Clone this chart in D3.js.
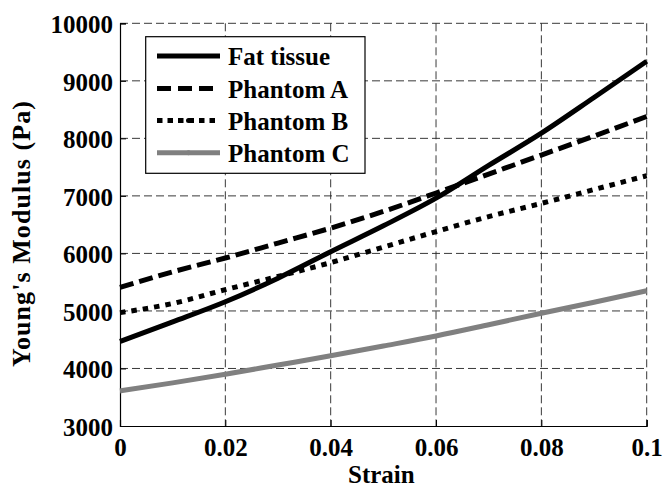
<!DOCTYPE html>
<html>
<head>
<meta charset="utf-8">
<script src="https://cdn.jsdelivr.net/npm/d3@7"></script>
<style>
  html, body { margin: 0; padding: 0; background: #fff; }
  svg { display: block; }
</style>
</head>
<body>
<svg id="chart" width="663" height="487"></svg>
<script>
// ---- data ----
const strain = [0, 0.01, 0.02, 0.03, 0.04, 0.05, 0.06, 0.07, 0.08, 0.09, 0.1];
const fatTissue = [4470, 4810, 5160, 5570, 6030, 6480, 6960, 7530, 8090, 8710, 9340];
const phantomA  = [5410, 5680, 5920, 6180, 6440, 6730, 7050, 7380, 7710, 8040, 8380];
const phantomB  = [4970, 5130, 5370, 5600, 5840, 6110, 6380, 6640, 6870, 7110, 7350];
const phantomC  = [3610, 3750, 3900, 4060, 4220, 4390, 4565, 4760, 4960, 5150, 5350];
const seriesNames = ["Fat tissue", "Phantom A", "Phantom B", "Phantom C"];
const xTicks = [0, 0.02, 0.04, 0.06, 0.08, 0.1];
const xTickLabels = ["0", "0.02", "0.04", "0.06", "0.08", "0.1"];
const yTicks = [3000, 4000, 5000, 6000, 7000, 8000, 9000, 10000];
const xLabel = "Strain";
const yLabel = "Young's Modulus (Pa)";

const FONT = "Liberation Serif";

// ---- layout ----
const svg = d3.select("#chart");
const L = 120, R = 646.7, T = 23.3, B = 426;
const x = d3.scaleLinear().domain([0, 0.1]).range([L, R]);
const y = d3.scaleLinear().domain([3000, 10000]).range([B, T]);

const styles = [
  { color: "#000", width: 5, dash: null, dot: false },
  { color: "#000", width: 5, dash: "14,6", dot: true },
  { color: "#000", width: 5, dash: "5.5,6", dot: true },
  { color: "#808080", width: 5, dash: null, dot: true }
];
const allSeries = [fatTissue, phantomA, phantomB, phantomC];

function txt(sel, size) {
  return sel.style("font-family", FONT).style("font-weight", "bold")
    .style("font-size", size + "px").attr("fill", "#000");
}

// grid
const grid = svg.append("g");
grid.selectAll("line.gx").data(xTicks.slice(1)).enter().append("line")
  .attr("x1", d => x(d)).attr("x2", d => x(d)).attr("y1", T).attr("y2", B)
  .attr("stroke", "#222").attr("stroke-width", 0.9).attr("stroke-dasharray", "8,4");
grid.selectAll("line.gy").data(yTicks.slice(1)).enter().append("line")
  .attr("y1", d => y(d)).attr("y2", d => y(d)).attr("x1", L).attr("x2", R)
  .attr("stroke", "#222").attr("stroke-width", 0.9).attr("stroke-dasharray", "8,4");

// axes (ticks inward)
const xAxis = d3.axisBottom(x).tickValues(xTicks).tickSize(-6).tickFormat((d, i) => xTickLabels[i]);
const yAxis = d3.axisLeft(y).tickValues(yTicks).tickSize(-6).tickFormat(d => d);
const gx = svg.append("g").attr("transform", `translate(0,${B})`).call(xAxis);
const gy = svg.append("g").attr("transform", `translate(${L},0)`).call(yAxis);
[gx, gy].forEach(g => {
  g.select(".domain").attr("stroke", "#000").attr("stroke-width", 1.2);
  g.selectAll(".tick line").attr("stroke", "#000").attr("stroke-width", 1);
  txt(g.selectAll(".tick text"), 25);
});
gx.selectAll(".tick text").attr("dy", null).attr("y", 30);
gy.selectAll(".tick text").attr("dy", null).attr("x", -7).attr("y", 9.5);

// lines
const line = d3.line().x((d, i) => x(strain[i])).y(d => y(d)).curve(d3.curveMonotoneX);
allSeries.forEach((s, k) => {
  const st = styles[k];
  const p = svg.append("path").datum(s).attr("d", line)
    .attr("fill", "none").attr("stroke", st.color).attr("stroke-width", st.width);
  if (st.dash) p.attr("stroke-dasharray", st.dash);
});

// labels
txt(svg.append("text"), 25).attr("x", (L + R) / 2 - 2).attr("y", 483).attr("text-anchor", "middle").text(xLabel);
txt(svg.append("text"), 26).attr("transform", `translate(30,234) rotate(-90)`)
  .attr("text-anchor", "middle").attr("textLength", 266).attr("lengthAdjust", "spacing").text(yLabel);

// legend
const leg = svg.append("g");
leg.append("rect").attr("x", 145.7).attr("y", 36.7).attr("width", 219.3).attr("height", 136.6)
  .attr("fill", "#fff").attr("stroke", "#000").attr("stroke-width", 1.2);
const rowY = [56, 88.5, 120.5, 152.7];
seriesNames.forEach((n, k) => {
  const st = styles[k];
  const ln = leg.append("line").attr("x1", 157).attr("x2", 220).attr("y1", rowY[k]).attr("y2", rowY[k])
    .attr("stroke", st.color).attr("stroke-width", st.width);
  if (st.dash) ln.attr("stroke-dasharray", k === 1 ? "14,7" : "5.5,5");
  if (st.dot) leg.append("circle").attr("cx", 188.5).attr("cy", rowY[k]).attr("r", 2.5).attr("fill", st.color);
  txt(leg.append("text"), 25).attr("x", 228).attr("y", rowY[k] + 9).text(n);
});
</script>
</body>
</html>
